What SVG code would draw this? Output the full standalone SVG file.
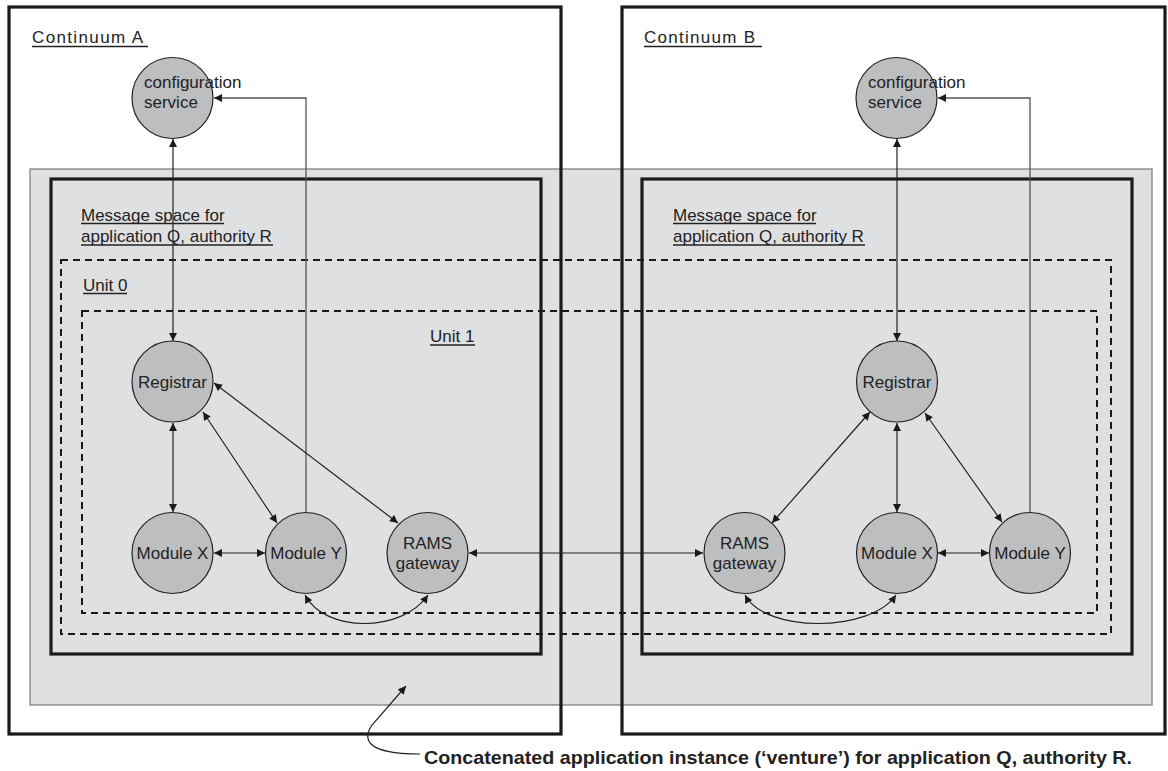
<svg xmlns="http://www.w3.org/2000/svg" width="1168" height="771" viewBox="0 0 1168 771">
<defs>
<style>
.lbl{font-family:"Liberation Sans",Arial,sans-serif;font-size:17px;fill:#222}
.nt{font-family:"Liberation Sans",Arial,sans-serif;font-size:17px;fill:#222;text-anchor:middle}
.ul{stroke:#222;stroke-width:1.6}
.node{fill:#bdbec0;stroke:#222;stroke-width:1.2}
.cont{fill:none;stroke:#1a1a1a;stroke-width:3.2}
.ms{fill:none;stroke:#1a1a1a;stroke-width:3.2}
.unit{fill:none;stroke:#1a1a1a;stroke-width:2;stroke-dasharray:7 5}
.c{fill:none;stroke:#222;stroke-width:1.2}
.cg{fill:none;stroke:#555;stroke-width:1.3}
.cap{font-family:"Liberation Sans",Arial,sans-serif;font-size:18.5px;font-weight:bold;fill:#222}
</style>
<marker id="ah" viewBox="0 0 10 10" refX="10" refY="5" markerWidth="9" markerHeight="8" orient="auto-start-reverse" markerUnits="userSpaceOnUse"><path d="M0,0 L10,5 L0,10 z" fill="#1a1a1a"/></marker>
</defs>
<rect width="1168" height="771" fill="#ffffff"/>

<g id="venture">
<rect x="30" y="169" width="1122" height="536" fill="#dfe0e2" stroke="#777" stroke-width="1.2"/>
</g>

<g id="continuumA">
<rect class="cont" x="9" y="7" width="552" height="727"/>
<text class="lbl" x="32" y="43" font-size="18" textLength="111" lengthAdjust="spacing">Continuum A</text>
<line class="ul" x1="32" y1="46.5" x2="148" y2="46.5"/>
</g>
<g id="continuumB">
<rect class="cont" x="622" y="7" width="543" height="727"/>
<text class="lbl" x="644" y="43" font-size="18" textLength="111" lengthAdjust="spacing">Continuum B</text>
<line class="ul" x1="644" y1="46.5" x2="762" y2="46.5"/>
</g>

<g id="msgspaceA">
<rect class="ms" x="51" y="179" width="490" height="475"/>
<text class="lbl" x="81" y="221">Message space for</text>
<line class="ul" x1="81" y1="223.5" x2="224" y2="223.5"/>
<text class="lbl" x="81" y="242">application Q, authority R</text>
<line class="ul" x1="81" y1="245" x2="273" y2="245"/>
</g>
<g id="msgspaceB">
<rect class="ms" x="642" y="179" width="490" height="475"/>
<text class="lbl" x="673" y="221">Message space for</text>
<line class="ul" x1="673" y1="223.5" x2="816" y2="223.5"/>
<text class="lbl" x="673" y="242">application Q, authority R</text>
<line class="ul" x1="673" y1="245" x2="865" y2="245"/>
</g>

<g id="unit0">
<rect class="unit" x="61" y="260" width="1050" height="374"/>
<text class="lbl" x="83" y="291">Unit 0</text>
<line class="ul" x1="83" y1="293.5" x2="127" y2="293.5"/>
</g>
<g id="unit1">
<rect class="unit" x="82" y="311" width="1015" height="302"/>
<text class="lbl" x="430" y="342">Unit 1</text>
<line class="ul" x1="430" y1="345" x2="475" y2="345"/>
</g>

<g id="connectors">
<line class="c" x1="173" y1="341" x2="173" y2="139" marker-start="url(#ah)" marker-end="url(#ah)"/>
<path class="cg" d="M306 512 V98 H214" marker-end="url(#ah)"/>
<line class="c" x1="173" y1="423" x2="173" y2="512" marker-start="url(#ah)" marker-end="url(#ah)"/>
<line class="c" x1="203" y1="412" x2="277" y2="523" marker-start="url(#ah)" marker-end="url(#ah)"/>
<line class="c" x1="214" y1="383" x2="398" y2="523" marker-start="url(#ah)" marker-end="url(#ah)"/>
<line class="c" x1="214" y1="553" x2="265" y2="553" marker-start="url(#ah)" marker-end="url(#ah)"/>
<path class="c" d="M305 595 C325 633 402 633 428 595" marker-start="url(#ah)" marker-end="url(#ah)"/>
<line class="c" x1="469" y1="553" x2="703" y2="553" marker-start="url(#ah)" marker-end="url(#ah)"/>

<line class="c" x1="897" y1="341" x2="897" y2="139" marker-start="url(#ah)" marker-end="url(#ah)"/>
<path class="cg" d="M1030 512 V98 H938" marker-end="url(#ah)"/>
<line class="c" x1="897" y1="423" x2="897" y2="512" marker-start="url(#ah)" marker-end="url(#ah)"/>
<line class="c" x1="870" y1="412" x2="772" y2="523" marker-start="url(#ah)" marker-end="url(#ah)"/>
<line class="c" x1="925" y1="413" x2="1002" y2="522" marker-start="url(#ah)" marker-end="url(#ah)"/>
<line class="c" x1="938" y1="553" x2="989" y2="553" marker-start="url(#ah)" marker-end="url(#ah)"/>
<path class="c" d="M745 595 C765 633 870 633 896 595" marker-start="url(#ah)" marker-end="url(#ah)"/>

<path class="c" d="M420 754 C380 754 358 746 372 725 L406 686" marker-end="url(#ah)"/>
</g>

<g id="configA">
<circle class="node" cx="172.5" cy="98" r="40.5"/>
<text class="lbl" x="144" y="88">configuration</text>
<text class="lbl" x="144" y="108">service</text>
</g>
<g id="registrarA">
<circle class="node" cx="172.5" cy="381.5" r="40.5"/>
<text class="nt" x="172.5" y="387.5">Registrar</text>
</g>
<g id="moduleXA">
<circle class="node" cx="172.5" cy="553" r="40.5"/>
<text class="nt" x="172.5" y="559">Module X</text>
</g>
<g id="moduleYA">
<circle class="node" cx="306" cy="553" r="40.5"/>
<text class="nt" x="306" y="559">Module Y</text>
</g>
<g id="ramsA">
<circle class="node" cx="427.5" cy="553" r="40.5"/>
<text class="nt" x="427.5" y="549">RAMS</text>
<text class="nt" x="427.5" y="569">gateway</text>
</g>

<g id="configB">
<circle class="node" cx="896.5" cy="98" r="40.5"/>
<text class="lbl" x="868" y="88">configuration</text>
<text class="lbl" x="868" y="108">service</text>
</g>
<g id="registrarB">
<circle class="node" cx="897" cy="381.5" r="40.5"/>
<text class="nt" x="897" y="387.5">Registrar</text>
</g>
<g id="ramsB">
<circle class="node" cx="744.5" cy="553" r="40.5"/>
<text class="nt" x="744.5" y="549">RAMS</text>
<text class="nt" x="744.5" y="569">gateway</text>
</g>
<g id="moduleXB">
<circle class="node" cx="897" cy="553" r="40.5"/>
<text class="nt" x="897" y="559">Module X</text>
</g>
<g id="moduleYB">
<circle class="node" cx="1030" cy="553" r="40.5"/>
<text class="nt" x="1030" y="559">Module Y</text>
</g>

<g id="caption">
<text class="cap" x="424" y="764" textLength="708" lengthAdjust="spacingAndGlyphs">Concatenated application instance (‘venture’) for application Q, authority R.</text>
</g>
</svg>
